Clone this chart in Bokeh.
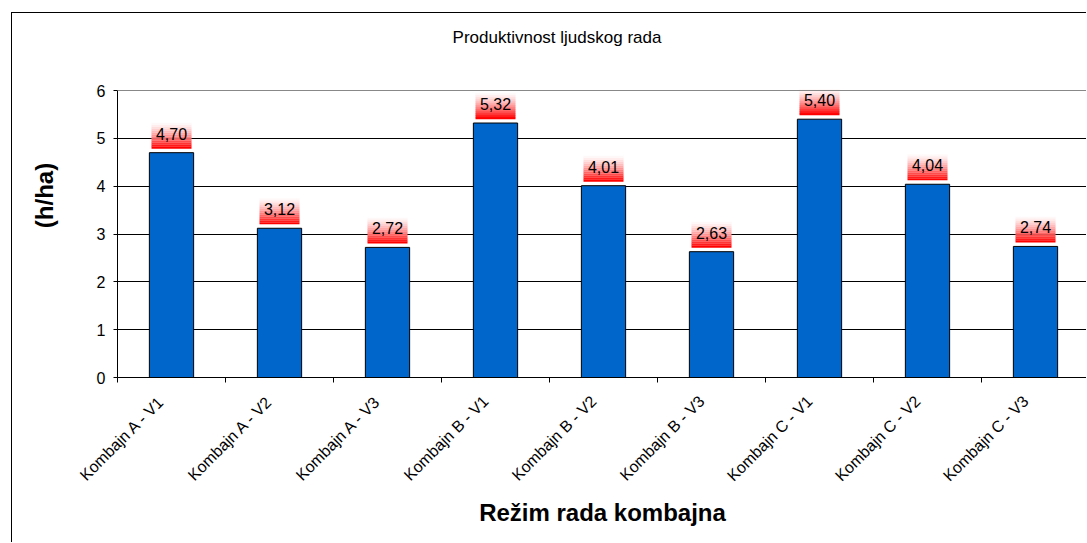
import math
from bokeh.plotting import figure
from bokeh.models import ColumnDataSource, Range1d, FixedTicker, Span, Label
from bokeh.transform import dodge
from bokeh.core.properties import value
from bokeh.embed import file_html
from bokeh.resources import INLINE

# ---- data ----
categories = ["Kombajn A - V1", "Kombajn A - V2", "Kombajn A - V3",
              "Kombajn B - V1", "Kombajn B - V2", "Kombajn B - V3",
              "Kombajn C - V1", "Kombajn C - V2", "Kombajn C - V3"]
values = [4.70, 3.12, 2.72, 5.32, 4.01, 2.63, 5.40, 4.04, 2.74]
y_ticks = [0, 1, 2, 3, 4, 5, 6]
title_text = "Produktivnost ljudskog rada"
x_title = "Režim rada kombajna"
y_title = "(h/ha)"

FONT = "Liberation Sans"
xs = [i + 0.5 for i in range(len(categories))]
label_pos = [round(x - 0.09, 2) for x in xs]
labels = [f"{v:.2f}".replace(".", ",") for v in values]
src = ColumnDataSource(dict(x=xs, val=values, lbl=labels))

FW = 970            # frame width in px
PX_PER_UNIT = 287 / 6.0
TOP_PAD = 77        # px above the "6" gridline (title area inside the frame)
y_max = y_ticks[-1]
p = figure(width=1075, height=530, output_backend="svg", toolbar_location=None,
           x_range=Range1d(0, FW / 108.0),
           y_range=Range1d(0, y_max + TOP_PAD / PX_PER_UNIT),
           min_border_left=105, min_border_top=0, min_border_right=0,
           min_border_bottom=166)
p.styles = {"margin-left": "11px", "margin-top": "12px",
            "border-left": "1px solid #000", "border-top": "1px solid #000"}
p.outline_line_color = None
p.background_fill_color = "white"
p.border_fill_color = "white"

# chart title (inside the extended frame, above the plot area)
p.add_layout(Label(x=(556.5 - 117) / 108.0, y=y_max + 53 / PX_PER_UNIT,
                   text=title_text, text_align="center", text_baseline="middle",
                   text_font=FONT, text_font_size="17px", text_color="black"))

# grid
p.xgrid.visible = False
p.ygrid.grid_line_color = "black"
p.ygrid.grid_line_width = 1
p.add_layout(Span(location=y_max, dimension="width", line_color="#888888", line_width=1))

# y axis
ya = p.yaxis[0]
ya.ticker = FixedTicker(ticks=y_ticks)
ya.bounds = (0, y_max)
ya.axis_line_color = "black"
ya.major_tick_out = 4
ya.major_tick_in = 0
ya.minor_tick_out = 0
ya.minor_tick_in = 0
ya.major_label_text_font = FONT
ya.major_label_text_font_size = "16px"
ya.major_label_text_color = "black"
ya.major_label_standoff = 8
ya.axis_label = y_title
ya.axis_label_text_font = FONT
ya.axis_label_text_font_size = "24px"
ya.axis_label_text_font_style = "bold"
ya.axis_label_text_color = "black"
ya.axis_label_standoff = 36

# x axis
xa = p.xaxis[0]
xa.ticker = FixedTicker(ticks=label_pos, minor_ticks=list(range(len(categories) + 1)))
xa.major_label_overrides = {x: c for x, c in zip(label_pos, categories)}
xa.major_label_orientation = math.pi / 4
xa.major_tick_out = 0
xa.major_tick_in = 0
xa.minor_tick_out = 5
xa.minor_tick_in = 0
xa.axis_line_color = "black"
xa.major_label_text_font = FONT
xa.major_label_text_font_size = "16px"
xa.major_label_text_color = "black"
xa.major_label_standoff = 16
xa.axis_label = x_title
xa.axis_label_text_font = FONT
xa.axis_label_text_font_size = "24px"
xa.axis_label_text_font_style = "bold"
xa.axis_label_text_color = "black"
xa.axis_label_standoff = 6

# bars
p.vbar(x="x", top="val", bottom=0, width=0.41, source=src,
       fill_color="#0066CC", line_color="black", line_width=1)

# gradient label boxes (white -> red), stacked 2px strips above each bar
px = 1.0 / PX_PER_UNIT
n = 14
for k in range(n):
    t = k / (n - 1)          # 0 bottom -> 1 top
    f = (1 - t) ** 1.4       # red fraction
    g = int(round(255 * (1 - f)))
    col = "#%02x%02x%02x" % (255, g, g)
    off = (4 + 2 * k + 1) * px
    p.rect(x="x", y=dodge("val", off, range=p.y_range), width=40, width_units="screen",
           height=2.2, height_units="screen", fill_color=col, line_color=None, source=src)

p.text(x="x", y="val", text="lbl", source=src, y_offset=-19,
       text_align="center", text_baseline="alphabetic",
       text_font=value(FONT), text_font_size="16px", text_color="black")

open("out.html", "w").write(file_html(p, INLINE))
